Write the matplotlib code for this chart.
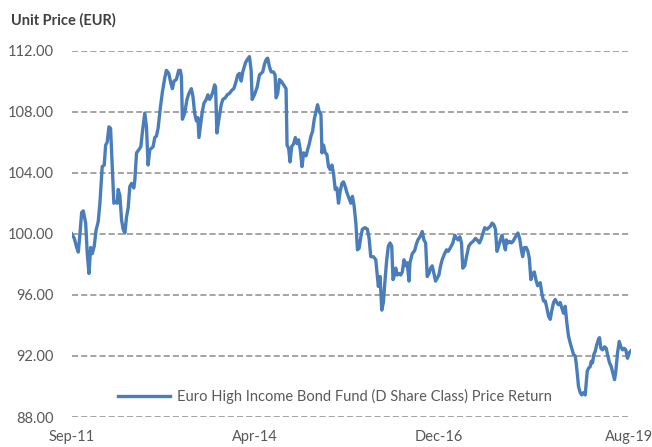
import matplotlib
matplotlib.use("Agg")
import matplotlib.pyplot as plt

# months since Sep-11 and unit price (EUR)
months = [0, 0.44, 0.85, 1.12, 1.41, 1.69, 1.96, 2.37, 2.64, 2.93, 3.22, 3.49, 3.83, 4.12, 4.50,
          4.79, 5.18, 5.52, 5.76, 6.03, 6.32, 6.60, 6.88, 7.16, 7.45, 7.72, 7.89, 8.18, 8.47, 8.74,
          9.03, 9.31, 9.59, 9.87, 10.16, 10.55, 10.72, 11.01, 11.40, 11.74, 12.02, 12.41, 12.70,
          12.97, 13.26, 13.55, 13.82, 14.11, 14.39, 14.67, 15.07, 15.41, 15.80, 16.09, 16.48,
          16.82, 17.10, 17.38, 17.78, 18.17, 18.46, 18.63, 18.80, 19.19, 19.58, 19.92, 20.32,
          20.59, 20.88, 21.17, 21.44, 21.61, 21.85, 22.18, 22.46, 22.86, 23.13, 23.42, 23.71,
          23.98, 24.27, 24.44, 24.66, 25.00, 25.40, 25.67, 26.08, 26.42, 26.81, 27.20, 27.54,
          27.94, 28.21, 28.50, 28.79, 29.06, 29.52, 29.81, 30.19, 30.48, 30.65, 31.04, 31.50,
          31.89, 32.18, 32.45, 32.74, 33.02, 33.29, 33.58, 33.87, 34.26, 34.55, 34.72, 34.99,
          35.28, 35.56, 36.00, 36.41, 36.58, 36.85, 37.09, 37.36, 37.70, 37.98, 38.27, 38.54,
          38.83, 39.12, 39.39, 39.80, 40.07, 40.36, 40.64, 40.91, 41.20, 41.49, 41.76, 42.05,
          42.34, 42.51, 42.78, 43.07, 43.35, 43.62, 43.91, 44.20, 44.47, 44.76, 45.05, 45.32,
          45.61, 45.90, 46.16, 46.45, 46.74, 47.13, 47.42, 47.69, 47.98, 48.27, 48.54, 48.82,
          49.11, 49.38, 49.79, 50.23, 50.52, 50.80, 51.24, 51.65, 51.92, 52.09, 52.38, 52.67,
          52.94, 53.23, 53.51, 53.79, 54.07, 54.36, 54.58, 54.75, 55.04, 55.31, 55.60, 55.88,
          56.16, 56.45, 56.73, 57.00, 57.29, 57.46, 57.85, 58.26, 58.53, 58.81, 59.15, 59.54,
          59.83, 60.12, 60.39, 60.68, 60.96, 61.24, 61.52, 61.81, 62.08, 62.37, 62.66, 62.93,
          63.34, 63.67, 63.95, 64.35, 64.74, 65.08, 65.37, 65.64, 65.93, 66.21, 66.43, 66.77,
          67.06, 67.45, 67.84, 68.18, 68.59, 68.86, 69.26, 69.60, 69.87, 70.16, 70.55, 70.84,
          71.13, 71.40, 71.69, 71.98, 72.24, 72.53, 72.82, 73.09, 73.38, 73.67, 73.84, 74.11,
          74.40, 74.68, 74.96, 75.24, 75.53, 75.80, 76.09, 76.38, 76.60, 76.89, 77.22, 77.49,
          77.73, 78.00, 78.29, 78.58, 78.85, 79.14, 79.31, 79.59, 79.86, 80.15, 80.44, 80.71,
          81.00, 81.29, 81.56, 81.85, 82.13, 82.40, 82.69, 82.98, 83.25, 83.54, 83.83, 84.10,
          84.39, 84.68, 84.95, 85.24, 85.53, 85.69, 85.92, 86.09, 86.38, 86.65, 86.94, 87.23,
          87.40, 87.57, 87.79, 88.08, 88.25, 88.47, 88.69, 88.93, 89.20, 89.49, 89.66, 89.88,
          90.17, 90.51, 90.80, 91.07, 91.36, 91.65, 91.92, 92.21, 92.43, 92.72, 93.01, 93.28,
          93.57, 93.85, 94.12, 94.41, 94.70, 95.03]

price = [100.0, 99.7, 99.1, 98.8, 100.05, 101.4, 101.5, 100.7, 98.7, 97.4, 99.1, 98.7, 99.2, 100.2, 100.8,
         102.0, 104.4, 104.5, 105.8, 106.0, 107.0, 106.9, 104.4, 102.0, 102.1, 102.0, 102.9, 102.5, 100.9, 100.3,
         100.05, 101.1, 101.7, 103.1, 103.3, 103.0, 103.5, 105.3, 105.5, 105.7, 106.7, 107.9, 107.0,
         104.5, 105.5, 105.6, 105.7, 106.3, 106.4, 106.9, 108.3, 109.3, 110.2, 110.7, 110.5,
         109.9, 109.5, 110.0, 110.1, 110.7, 110.7, 110.3, 107.5, 107.9, 108.8, 109.2, 109.5,
         109.0, 107.9, 107.4, 107.6, 106.3, 107.0, 108.0, 108.55, 108.8, 109.1, 108.8, 109.0,
         109.3, 109.75, 109.6, 106.6, 107.5, 108.45, 108.8, 108.9, 109.1, 109.2, 109.4, 109.5,
         110.0, 110.4, 110.5, 110.0, 110.6, 111.2, 111.4, 111.6, 110.7, 108.8, 109.1, 109.6,
         110.4, 110.5, 110.6, 111.1, 111.4, 111.5, 110.95, 110.6, 110.6, 110.4, 108.9, 109.2,
         110.1, 110.0, 109.75, 109.5, 105.8, 105.6, 104.7, 105.7, 105.9, 106.3, 105.9, 106.15,
         105.5, 104.4, 105.3, 105.1, 105.5, 105.9, 106.4, 106.7, 107.5, 108.0, 108.45, 108.0,
         107.8, 105.3, 105.8, 105.3, 105.2, 104.4, 104.2, 104.5, 103.95, 102.9, 103.0, 102.0,
         102.8, 103.3, 103.4, 103.1, 102.7, 102.3, 102.0, 102.45, 101.8, 100.7, 98.95, 99.05,
         99.8, 100.3, 100.4, 100.3, 99.7, 98.5, 98.5, 98.3, 97.2, 96.55, 97.2, 95.0,
         95.5, 97.0, 98.3, 99.2, 99.4, 99.2, 97.0, 97.2, 97.75, 97.3, 97.4, 97.3,
         97.5, 98.3, 97.9, 98.1, 96.9, 98.1, 98.7, 98.9, 99.3, 99.6, 99.8, 100.15,
         99.6, 99.4, 97.2, 97.4, 97.75, 97.9, 97.4, 96.9, 97.1, 97.3, 97.9, 98.3,
         98.7, 98.95, 98.85, 99.1, 99.4, 99.9, 99.7, 99.6, 99.8, 99.4, 97.75, 97.9,
         98.5, 99.2, 99.4, 99.5, 99.7, 99.6, 99.4, 99.7, 100.05, 100.4, 100.3, 100.4,
         100.5, 100.7, 100.6, 100.3, 98.85, 99.2, 99.6, 99.9, 99.4, 98.95, 99.6, 99.4,
         99.5, 99.4, 99.5, 99.7, 99.9, 100.05, 99.7, 98.95, 98.5, 99.1, 99.1, 98.85,
         98.4, 97.0, 97.4, 97.5, 97.0, 96.6, 96.7, 96.8, 96.1, 95.6, 95.6, 95.15,
         94.6, 94.4, 95.0, 95.5, 95.7, 95.5, 95.35, 95.5, 95.15, 94.8, 95.25, 94.2,
         93.3, 92.85, 92.5, 92.1, 92.0, 91.55, 90.7, 90.0, 89.6, 89.45, 89.6, 89.45,
         90.2, 91.0, 91.2, 91.3, 91.65, 91.55, 92.1, 92.3, 92.75, 93.1, 93.2, 92.5,
         92.4, 92.6, 92.5, 92.0, 91.55, 91.3, 90.9, 90.45, 91.0, 92.2, 92.95, 92.6,
         92.4, 92.5, 92.4, 91.85, 92.2, 92.35]

x_labels = ["Sep-11", "Apr-14", "Dec-16", "Aug-19"]
x_label_pos = [0, 31.1, 62.3, 94.6]
y_ticks = [88, 92, 96, 100, 104, 108, 112]
series_name = "Euro High Income Bond Fund (D Share Class) Price Return"

plt.rcParams['font.family'] = ['Lato', 'DejaVu Sans']

fig = plt.figure(figsize=(6.52, 4.47), dpi=100)
ax = fig.add_axes([0.110, 0.067, 0.858, 0.820])

ax.plot(months, price, color='#4a7ebb', lw=2.4, label=series_name, zorder=3)

ax.set_xlim(0, 95.03)
ax.set_ylim(88, 112)
ax.set_yticks(y_ticks)
ax.set_yticklabels([f"{v:.2f}" for v in y_ticks])
ax.set_xticks(x_label_pos)
ax.set_xticklabels(x_labels)

for v in y_ticks:
    ax.axhline(v, color='#8c8c8c', lw=1.1, linestyle=(0, (4, 2)), zorder=1)

for s in ax.spines.values():
    s.set_visible(False)
ax.tick_params(length=0, labelsize=10.5, labelcolor='#595959')
ax.tick_params(axis='y', pad=13)
ax.tick_params(axis='x', pad=9)

fig.text(0.017, 0.955, "Unit Price (EUR)", fontsize=10.5, fontweight='bold',
         color='#404040', va='center', ha='left')

ax.legend(loc='center', bbox_to_anchor=(0.47, 0.057), frameon=False, fontsize=10.5,
          handlelength=3.6, handletextpad=0.45, labelcolor='#595959')

fig.savefig("out.png", dpi=100)
